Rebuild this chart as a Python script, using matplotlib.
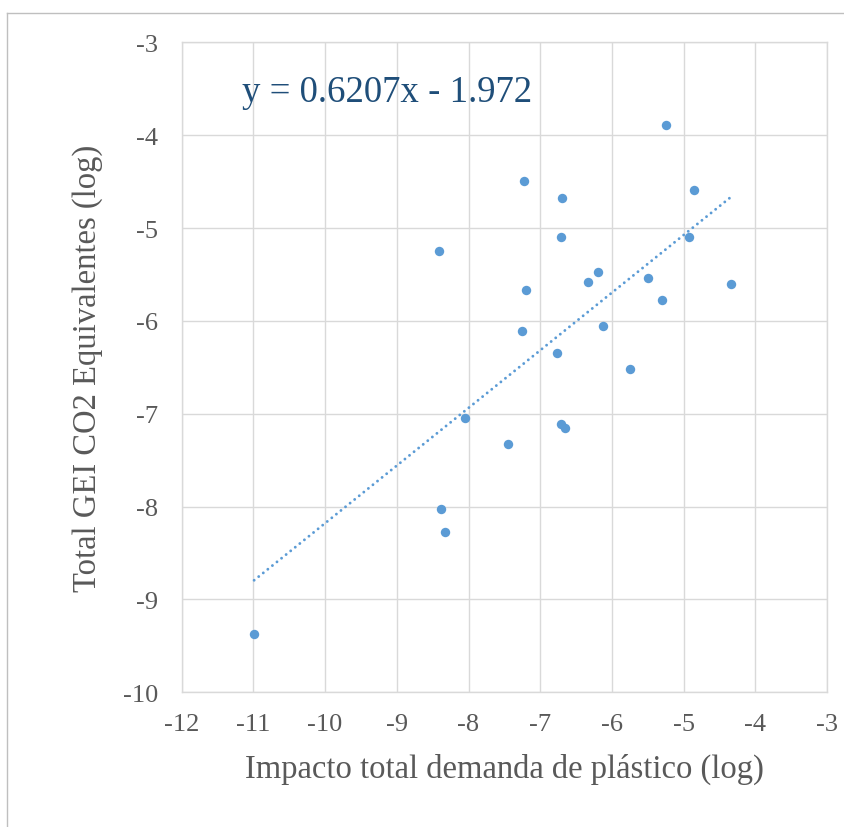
import matplotlib
matplotlib.use("Agg")
import matplotlib.pyplot as plt
from matplotlib.lines import Line2D
import numpy as np

# Data
x_vals = [-7.22, -8.41, -7.20, -7.25, -5.24, -6.69, -4.85, -6.71, -4.93, -6.20, -6.34, -5.50,
          -4.34, -5.30, -6.12, -6.77, -5.75, -8.05, -6.71, -6.66, -7.45, -8.39, -8.33, -10.99]
y_vals = [-4.49, -5.25, -5.67, -6.11, -3.89, -4.68, -4.59, -5.10, -5.10, -5.47, -5.58, -5.54,
          -5.60, -5.78, -6.06, -6.35, -6.52, -7.05, -7.11, -7.15, -7.33, -8.03, -8.27, -9.37]
slope = 0.6207
intercept = -1.972
x_ticks = [-12, -11, -10, -9, -8, -7, -6, -5, -4, -3]
y_ticks = [-10, -9, -8, -7, -6, -5, -4, -3]
equation_text = "y = 0.6207x - 1.972"
x_label = "Impacto total demanda de plástico (log)"
y_label = "Total GEI CO2 Equivalentes (log)"

plt.rcParams['font.family'] = ['Liberation Serif', 'DejaVu Serif']

fig = plt.figure(figsize=(8.44, 8.28), dpi=100)
ax = fig.add_axes([0.2153, 0.1627, 0.9799 - 0.2153, 0.9477 - 0.1627])

# chart border (cropped frame)
fig.add_artist(Line2D([7/844, 7/844], [0, 1 - 14/828], transform=fig.transFigure, color='#BFBFBF', lw=1))
fig.add_artist(Line2D([7/844, 1], [1 - 14/828, 1 - 14/828], transform=fig.transFigure, color='#BFBFBF', lw=1))

blue = '#5B9BD5'
ax.scatter(x_vals, y_vals, s=46, color=blue, zorder=3, linewidths=0)

xs = np.array([min(x_vals), max(x_vals)])
ax.plot(xs, slope * xs + intercept, color=blue, lw=2.1,
        linestyle=(0, (0.01, 2.0)), dash_capstyle='round', zorder=2)

ax.set_xlim(-12, -3)
ax.set_ylim(-10, -3)
ax.set_xticks(x_ticks)
ax.set_yticks(y_ticks)
ax.set_xticklabels([str(t) for t in x_ticks])
ax.set_yticklabels([str(t) for t in y_ticks])
ax.grid(True, color='#D9D9D9', lw=1.0)
ax.set_axisbelow(True)
for sp in ax.spines.values():
    sp.set_color('#D9D9D9')
    sp.set_linewidth(1.0)
ax.tick_params(axis='both', length=0, labelsize=19, colors='#595959')
ax.tick_params(axis='x', pad=15)
ax.tick_params(axis='y', pad=17)

ax.set_xlabel(x_label, fontsize=23.5, color='#595959', labelpad=13)
ax.set_ylabel(y_label, fontsize=23.5, color='#595959', labelpad=14)

ax.text(-11.16, -3.63, equation_text, fontsize=26.5, color='#1F4E79', ha='left', va='baseline')

fig.savefig("out.png", dpi=100)
